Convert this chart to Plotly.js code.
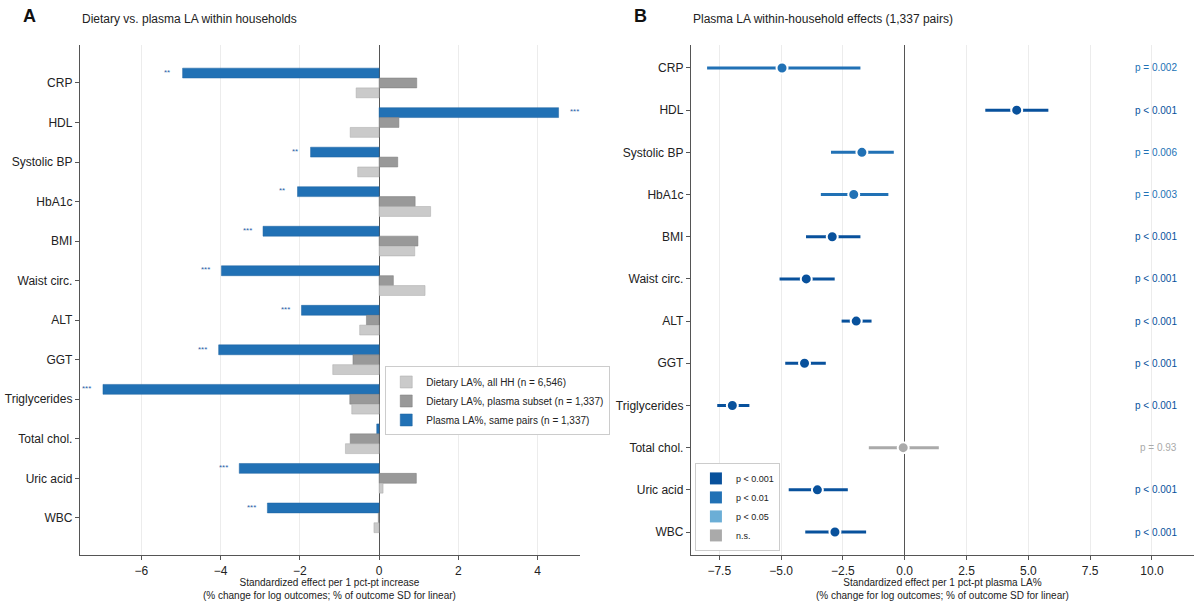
<!DOCTYPE html>
<html>
<head>
<meta charset="utf-8">
<script src="https://cdn.plot.ly/plotly-3.0.1.min.js"></script>
<style>html,body{margin:0;padding:0;background:#fff;}#chart{width:1200px;height:606px;}</style>
</head>
<body>
<div id="chart"></div>
<script>
// ---------- data ----------
const categories = ['CRP','HDL','Systolic BP','HbA1c','BMI','Waist circ.','ALT','GGT','Triglycerides','Total chol.','Uric acid','WBC'];
const dietaryAllHH = [-0.58, -0.73, -0.54, 1.30, 0.90, 1.16, -0.49, -1.17, -0.69, -0.85, 0.10, -0.13];
const dietaryPlasmaSubset = [0.95, 0.50, 0.47, 0.91, 0.98, 0.36, -0.32, -0.66, -0.74, -0.73, 0.94, -0.02];
const plasmaEffect = [-4.96, 4.53, -1.73, -2.06, -2.93, -3.98, -1.96, -4.05, -6.97, -0.06, -3.53, -2.82];
const ciLow  = [-7.99, 3.26, -2.98, -3.39, -3.99, -5.06, -2.55, -4.83, -7.58, -1.45, -4.69, -4.02];
const ciHigh = [-1.79, 5.81, -0.44, -0.66, -1.79, -2.83, -1.34, -3.19, -6.28, 1.38, -2.30, -1.56];
const pLabels = ['p = 0.002','p < 0.001','p = 0.006','p = 0.003','p < 0.001','p < 0.001','p < 0.001','p < 0.001','p < 0.001','p = 0.93','p < 0.001','p < 0.001'];
const tierNames = ['p < 0.001','p < 0.01','p < 0.05','n.s.'];
const tierStars = ['***','**','*',''];
const seriesNames = ['Plasma LA%, same pairs (n = 1,337)','Dietary LA%, plasma subset (n = 1,337)','Dietary LA%, all HH (n = 6,546)'];

// ---------- styles ----------
const tierColors = ['#08519c','#2171b5','#6baed6','#aaaaaa'];
const FONT = 'Liberation Sans, Arial, Helvetica, sans-serif';
const TXT = '#222222';

function tierOf(lbl){
  if (lbl.indexOf('<') >= 0) {
    const t = parseFloat(lbl.split('<')[1]);
    if (t <= 0.001) return 0; if (t <= 0.01) return 1; if (t <= 0.05) return 2; return 3;
  }
  const p = parseFloat(lbl.split('=')[1]);
  if (p < 0.001) return 0; if (p < 0.01) return 1; if (p < 0.05) return 2; return 3;
}
const tiers = pLabels.map(tierOf);

const traces = [];
// Panel A bars (order: blue top, dark gray, light gray)
traces.push({type:'bar', orientation:'h', name:seriesNames[0], y:categories, x:plasmaEffect,
  marker:{color:'#2171b5', line:{color:'#1c62a0', width:0.5}}, xaxis:'x', yaxis:'y', legend:'legend'});
traces.push({type:'bar', orientation:'h', name:seriesNames[1], y:categories, x:dietaryPlasmaSubset,
  marker:{color:'#999999', line:{color:'#7a7a7a', width:0.5}}, xaxis:'x', yaxis:'y', legend:'legend'});
traces.push({type:'bar', orientation:'h', name:seriesNames[2], y:categories, x:dietaryAllHH,
  marker:{color:'#cacaca', line:{color:'#a8a8a8', width:0.5}}, xaxis:'x', yaxis:'y', legend:'legend'});

// Panel B points with CIs, one trace per tier
for (let t = 0; t < tierNames.length; t++) {
  const idx = categories.map((c,i)=>i).filter(i => tiers[i] === t);
  if (!idx.length) continue;
  traces.push({type:'scatter', mode:'markers', showlegend:false,
    x: idx.map(i=>plasmaEffect[i]), y: idx.map(i=>categories[i]),
    error_x:{type:'data', symmetric:false, array: idx.map(i=>ciHigh[i]-plasmaEffect[i]),
      arrayminus: idx.map(i=>plasmaEffect[i]-ciLow[i]), color: tierColors[t], thickness:3, width:0},
    marker:{color: tierColors[t], size:11, line:{color:'#ffffff', width:2}},
    xaxis:'x2', yaxis:'y2'});
}
// Panel B legend swatches
for (let t = 0; t < tierNames.length; t++) {
  traces.push({type:'bar', orientation:'h', name:tierNames[t], x:[null], y:[null],
    marker:{color:tierColors[t]}, xaxis:'x2', yaxis:'y2', legend:'legend2', hoverinfo:'skip'});
}

// annotations
const ann = [];
categories.forEach((c,i)=>{
  const s = tierStars[tiers[i]];
  if (s) ann.push({xref:'x', yref:'y', x: plasmaEffect[i], y: i - 0.27, text: s, showarrow:false,
    xshift: plasmaEffect[i] < 0 ? -16 : 16, xanchor:'center', yanchor:'middle',
    font:{family:FONT, size:8, color:'#2b5ea8'}});
  ann.push({xref:'x2 domain', yref:'y2', x: 0.97, y: c, text: pLabels[i], showarrow:false,
    xanchor:'right', yanchor:'middle', font:{family:FONT, size:10, color: tierColors[tiers[i]]}});
});
ann.push({xref:'paper', yref:'paper', x:-0.053, y:1.056, text:'<b>A</b>', showarrow:false, xanchor:'left', yanchor:'middle', font:{family:FONT, size:18, color:'#111'}});
ann.push({xref:'paper', yref:'paper', x:0.0, y:1.051, text:'Dietary vs. plasma LA within households', showarrow:false, xanchor:'left', yanchor:'middle', font:{family:FONT, size:12, color:TXT}});
ann.push({xref:'paper', yref:'paper', x:0.4955, y:1.056, text:'<b>B</b>', showarrow:false, xanchor:'left', yanchor:'middle', font:{family:FONT, size:18, color:'#111'}});
ann.push({xref:'paper', yref:'paper', x:0.5485, y:1.051, text:'Plasma LA within-household effects (1,337 pairs)', showarrow:false, xanchor:'left', yanchor:'middle', font:{family:FONT, size:12, color:TXT}});
ann.push({xref:'x domain', yref:'paper', x:0.5, y:-0.0392, text:'Standardized effect per 1 pct-pt increase<br>(% change for log outcomes; % of outcome SD for linear)', showarrow:false, xanchor:'center', yanchor:'top', font:{family:FONT, size:10, color:TXT}});
ann.push({xref:'x2 domain', yref:'paper', x:0.5, y:-0.0392, text:'Standardized effect per 1 pct-pt plasma LA%<br>(% change for log outcomes; % of outcome SD for linear)', showarrow:false, xanchor:'center', yanchor:'top', font:{family:FONT, size:10, color:TXT}});

const axBase = {showline:true, linecolor:'#555555', linewidth:1.2, ticks:'outside', tickcolor:'#555555', ticklen:4,
  tickfont:{family:FONT, size:12, color:TXT}, automargin:false, mirror:false};

const layout = {
  width:1200, height:606, paper_bgcolor:'#ffffff', plot_bgcolor:'#ffffff',
  margin:{l:80, r:6, t:45, b:51},
  barmode:'group', bargap:0.25, bargroupgap:0,
  font:{family:FONT, color:TXT},
  xaxis: Object.assign({}, axBase, {domain:[0,0.4488], range:[-7.55,5.07], dtick:2, tick0:0,
    showgrid:true, gridcolor:'#ececec', gridwidth:1, zeroline:true, zerolinecolor:'#555555', zerolinewidth:1.2}),
  yaxis: Object.assign({}, axBase, {type:'category', categoryorder:'array', categoryarray:categories,
    range:[11.94,-0.96], showgrid:false, zeroline:false}),
  xaxis2: Object.assign({}, axBase, {domain:[0.5485,1], anchor:'y2', range:[-8.64,11.7], dtick:2.5, tick0:0, tickformat:'.1f',
    showgrid:true, gridcolor:'#ececec', gridwidth:1, zeroline:true, zerolinecolor:'#555555', zerolinewidth:1.2}),
  yaxis2: Object.assign({}, axBase, {anchor:'x2', type:'category', categoryorder:'array', categoryarray:categories,
    range:[11.545,-0.545], showgrid:false, zeroline:false}),
  legend:{x:0.274, y:0.302, xanchor:'left', yanchor:'middle', traceorder:'reversed', bgcolor:'#ffffff',
    bordercolor:'#cccccc', borderwidth:1, font:{family:FONT, size:10, color:TXT}, itemwidth:30},
  legend2:{x:0.552, y:0.008, xanchor:'left', yanchor:'bottom', traceorder:'normal', bgcolor:'#ffffff',
    bordercolor:'#cccccc', borderwidth:1, font:{family:FONT, size:9, color:TXT}, itemwidth:30},
  annotations: ann,
  showlegend:true
};

Plotly.newPlot('chart', traces, layout, {displayModeBar:false, staticPlot:true});
</script>
</body>
</html>
